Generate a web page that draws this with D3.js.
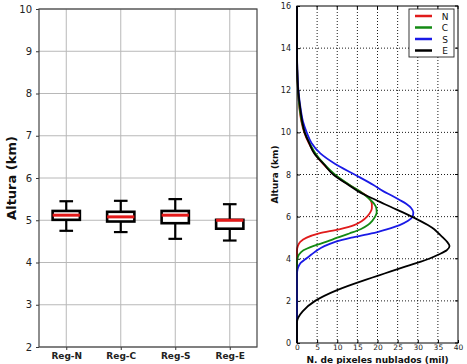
<!DOCTYPE html>
<html><head><meta charset="utf-8">
<script src="https://cdn.jsdelivr.net/npm/d3@7"></script>
<style>body{margin:0;background:#fff}svg{display:block}text{font-family:"DejaVu Sans",sans-serif}</style>
</head><body>
<svg id="c" width="467" height="364"></svg>
<script>
// ---- Left panel: boxplots ----
const regions = ["Reg-N", "Reg-C", "Reg-S", "Reg-E"];
const whiskLow  = [4.75, 4.72, 4.56, 4.52];
const q1        = [5.01, 4.97, 4.93, 4.80];
const medians   = [5.12, 5.08, 5.12, 5.00];
const q3        = [5.22, 5.20, 5.22, 5.01];
const whiskHigh = [5.45, 5.46, 5.50, 5.38];
const leftYTicks = [2, 3, 4, 5, 6, 7, 8, 9, 10];

// ---- Right panel: vertical profiles ----
const altitude = [0, 1, 1.2, 1.5, 2, 2.5, 3, 3.2, 3.4, 3.6, 3.8, 4, 4.2, 4.4, 4.6, 4.8, 5, 5.2, 5.4, 5.6, 5.8, 6, 6.2, 6.4, 6.6, 6.8, 7, 7.2, 7.5, 8, 8.5, 9, 9.5, 10, 10.5, 11, 12, 13, 14, 16];
const serN = [0, 0, 0, 0, 0, 0, 0, 0, 0, 0, 0, 0, 0, 0, 0.2, 0.8, 2.4, 5.5, 10.5, 14.2, 16.2, 17.4, 18.2, 18.6, 18.6, 18.2, 17.2, 15.6, 13.0, 9.2, 6.5, 4.4, 2.9, 1.8, 1.1, 0.7, 0.25, 0.05, 0, 0];
const serC = [0, 0, 0, 0, 0, 0, 0, 0, 0, 0, 0, 0.1, 0.5, 1.6, 4.0, 7.2, 10.0, 13.0, 15.8, 17.6, 18.7, 19.4, 19.8, 19.7, 19.2, 18.2, 17.0, 15.6, 13.1, 9.4, 6.7, 4.6, 3.1, 1.9, 1.2, 0.75, 0.25, 0.05, 0, 0];
const serS = [0, 0, 0, 0, 0, 0, 0, 0, 0.05, 0.3, 0.9, 2.2, 3.6, 5.0, 6.8, 9.5, 13.5, 18.5, 22.3, 25.5, 27.6, 28.7, 28.9, 28.4, 27.2, 25.4, 23.5, 21.5, 19.0, 14.3, 9.5, 5.8, 3.6, 2.4, 1.5, 1.0, 0.35, 0.08, 0, 0];
const serE = [0, 0, 0.3, 1.4, 4.5, 9.8, 17.0, 20.2, 23.3, 26.5, 29.8, 32.8, 35.2, 37.2, 37.9, 37.3, 36.3, 35.2, 34.1, 32.5, 30.6, 28.5, 26.3, 24.0, 21.7, 19.5, 17.2, 15.2, 12.8, 9.0, 6.6, 4.3, 3.0, 1.9, 1.3, 0.9, 0.3, 0.05, 0, 0];
const seriesNames = ["N", "C", "S", "E"];
const seriesColors = ["#e01b1b", "#138a13", "#1a1ae6", "#000000"];
const rightXTicks = [0, 5, 10, 15, 20, 25, 30, 35, 40];
const rightYTicks = [0, 2, 4, 6, 8, 10, 12, 14, 16];

const svg = d3.select("#c");

// ===== LEFT =====
const lx = d3.scaleLinear().domain([0.5, 4.5]).range([39, 257]);
const ly = d3.scaleLinear().domain([2, 10]).range([347, 9]);
const L = svg.append("g");
L.selectAll(".gy").data(leftYTicks).enter().append("line")
  .attr("x1", 39).attr("x2", 257).attr("y1", d => ly(d)).attr("y2", d => ly(d))
  .attr("stroke", "#b8b8b8").attr("stroke-width", 1);
L.selectAll(".gx").data(regions).enter().append("line")
  .attr("x1", (d, i) => lx(i + 1)).attr("x2", (d, i) => lx(i + 1))
  .attr("y1", 9).attr("y2", 347).attr("stroke", "#b8b8b8").attr("stroke-width", 1);
const lAxisY = d3.axisLeft(ly).tickValues(leftYTicks).tickSize(3).tickPadding(4).tickFormat(d3.format("d"));
const gly = L.append("g").attr("transform", "translate(39,0)").call(lAxisY);
gly.select(".domain").remove();
gly.selectAll("text").attr("font-size", 10).attr("fill", "#222");
gly.selectAll("line").attr("stroke", "#333");
const lAxisX = d3.axisBottom(lx).tickValues([1, 2, 3, 4]).tickSize(3).tickPadding(3).tickFormat((d) => regions[d - 1]);
const glx = L.append("g").attr("transform", "translate(0,347)").call(lAxisX);
glx.select(".domain").remove();
glx.selectAll("text").attr("font-size", 9).attr("font-weight", "bold").attr("fill", "#222");
glx.selectAll("line").attr("stroke", "#333");
L.append("rect").attr("x", 39).attr("y", 9).attr("width", 218).attr("height", 338)
  .attr("fill", "none").attr("stroke", "#444").attr("stroke-width", 1.2);
const bw = lx(1.25) - lx(1);
const cw = lx(1.125) - lx(1);
regions.forEach((r, i) => {
  const cx = lx(i + 1);
  const g = L.append("g");
  g.append("line").attr("x1", cx).attr("x2", cx).attr("y1", ly(whiskHigh[i])).attr("y2", ly(q3[i]))
    .attr("stroke", "#000").attr("stroke-width", 2.2);
  g.append("line").attr("x1", cx).attr("x2", cx).attr("y1", ly(q1[i])).attr("y2", ly(whiskLow[i]))
    .attr("stroke", "#000").attr("stroke-width", 2.2);
  [whiskHigh[i], whiskLow[i]].forEach(v => g.append("line")
    .attr("x1", cx - cw).attr("x2", cx + cw).attr("y1", ly(v)).attr("y2", ly(v))
    .attr("stroke", "#000").attr("stroke-width", 2.2));
  g.append("rect").attr("x", cx - bw).attr("y", ly(q3[i])).attr("width", 2 * bw)
    .attr("height", Math.max(ly(q1[i]) - ly(q3[i]), 1)).attr("fill", "#fff")
    .attr("stroke", "#000").attr("stroke-width", 2.6);
  g.append("line").attr("x1", cx - bw).attr("x2", cx + bw).attr("y1", ly(medians[i])).attr("y2", ly(medians[i]))
    .attr("stroke", "#e41a1a").attr("stroke-width", 3);
});
L.append("text").attr("transform", `translate(16,${(9 + 347) / 2}) rotate(-90)`)
  .attr("text-anchor", "middle").attr("font-size", 13).attr("font-weight", "bold").attr("fill", "#111")
  .text("Altura (km)");

// ===== RIGHT =====
const rx = d3.scaleLinear().domain([0, 40]).range([297, 458]);
const ry = d3.scaleLinear().domain([0, 16]).range([343, 6]);
const R = svg.append("g");
R.selectAll(".rgx").data(rightXTicks.slice(1, -1)).enter().append("line")
  .attr("x1", d => rx(d)).attr("x2", d => rx(d)).attr("y1", 6).attr("y2", 343)
  .attr("stroke", "#000").attr("stroke-width", 0.9).attr("stroke-dasharray", "1,2");
R.selectAll(".rgy").data(rightYTicks.slice(1, -1)).enter().append("line")
  .attr("x1", 297).attr("x2", 458).attr("y1", d => ry(d)).attr("y2", d => ry(d))
  .attr("stroke", "#000").attr("stroke-width", 0.9).attr("stroke-dasharray", "1,2");
const gry = R.append("g").attr("transform", "translate(297,0)")
  .call(d3.axisLeft(ry).tickValues(rightYTicks).tickSize(-3).tickPadding(6));
gry.select(".domain").remove();
gry.selectAll("text").attr("font-size", 8).attr("fill", "#222");
const grx = R.append("g").attr("transform", "translate(0,343)")
  .call(d3.axisBottom(rx).tickValues(rightXTicks).tickSize(-3).tickPadding(1.5));
grx.select(".domain").remove();
grx.selectAll("text").attr("font-size", 7.5).attr("fill", "#222");
R.selectAll(".rt").data(rightYTicks).enter().append("line")
  .attr("x1", 458).attr("x2", 455).attr("y1", d => ry(d)).attr("y2", d => ry(d)).attr("stroke", "#000");
R.selectAll(".tt").data(rightXTicks).enter().append("line")
  .attr("x1", d => rx(d)).attr("x2", d => rx(d)).attr("y1", 6).attr("y2", 9).attr("stroke", "#000");

const line = d3.line().x(d => rx(d[1])).y(d => ry(d[0])).curve(d3.curveMonotoneY);
const allSeries = [serN, serC, serS, serE];
allSeries.forEach((s, i) => {
  R.append("path").datum(altitude.map((a, j) => [a, s[j]]))
    .attr("d", line).attr("fill", "none").attr("stroke", seriesColors[i]).attr("stroke-width", 1.8);
});
R.append("rect").attr("x", 297).attr("y", 6).attr("width", 161).attr("height", 337)
  .attr("fill", "none").attr("stroke", "#000").attr("stroke-width", 1);

const lg = R.append("g");
lg.append("rect").attr("x", 409).attr("y", 9).attr("width", 45).attr("height", 48)
  .attr("fill", "#fff").attr("stroke", "#222").attr("stroke-width", 0.9);
seriesNames.forEach((n, i) => {
  const yy = 16 + i * 11.5;
  lg.append("line").attr("x1", 415).attr("x2", 432).attr("y1", yy).attr("y2", yy)
    .attr("stroke", seriesColors[i]).attr("stroke-width", 2.5);
  lg.append("text").attr("x", 445).attr("y", yy + 3.5).attr("text-anchor", "middle")
    .attr("font-size", 9).attr("fill", "#111").text(n);
});

R.append("text").attr("transform", `translate(278,${(6 + 343) / 2}) rotate(-90)`)
  .attr("text-anchor", "middle").attr("font-size", 9).attr("font-weight", "bold").attr("fill", "#111")
  .text("Altura (km)");
R.append("text").attr("x", (297 + 458) / 2).attr("y", 363).attr("text-anchor", "middle")
  .attr("font-size", 9).attr("font-weight", "bold").attr("fill", "#111")
  .text("N. de pixeles nublados (mil)");
</script>
</body></html>
